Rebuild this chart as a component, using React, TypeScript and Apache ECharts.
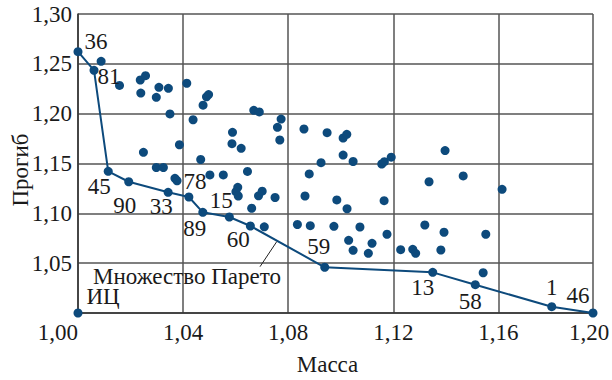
import React, { useEffect, useRef } from "react";
import * as echarts from "echarts";

// Design alternatives (mass, deflection), relative units
const designMass = [
  1.0088, 1.0158, 1.0237, 1.0257, 1.0239, 1.0308, 1.0298, 1.0344, 1.0414, 1.0350,
  1.0438, 1.0476, 1.0489, 1.0497, 1.0386, 1.0249, 1.0588, 1.0586, 1.0621, 1.0467,
  1.0669, 1.0690, 1.0773, 1.0759, 1.0768, 1.0860, 1.0948, 1.1009, 1.1023, 1.1009,
  1.0925, 1.1047, 1.1156, 1.1166, 1.1192, 1.0645, 1.0880, 1.0298, 1.0325, 1.0369,
  1.0377, 1.0502, 1.0553, 1.0608, 1.0601, 1.0610, 1.0687, 1.0701, 1.0750, 1.0661,
  1.0709, 1.0864, 1.0985, 1.1024, 1.1165, 1.1336, 1.0835, 1.0884, 1.0974, 1.1073,
  1.1030, 1.1047, 1.1119, 1.1105, 1.1176, 1.1228, 1.1274, 1.1285, 1.1320, 1.1397,
  1.1466, 1.1614, 1.1393, 1.1552, 1.1381, 1.1542,
];
const designDeflection = [
  1.2525, 1.2283, 1.2338, 1.2381, 1.2207, 1.2264, 1.2164, 1.2254, 1.2305, 1.1997,
  1.1939, 1.2085, 1.2169, 1.2192, 1.1688, 1.1612, 1.1813, 1.1699, 1.1652, 1.1540,
  1.2034, 1.2017, 1.1946, 1.1863, 1.1736, 1.1846, 1.1809, 1.1756, 1.1793, 1.1585,
  1.1508, 1.1520, 1.1495, 1.1518, 1.1563, 1.1420, 1.1395, 1.1460, 1.1460, 1.1351,
  1.1327, 1.1385, 1.1385, 1.1261, 1.1217, 1.1174, 1.1176, 1.1222, 1.1159, 1.1051,
  1.0865, 1.1174, 1.1134, 1.1046, 1.1127, 1.1317, 1.0888, 1.0876, 1.0870, 1.0863,
  1.0729, 1.0629, 1.0699, 1.0599, 1.0790, 1.0635, 1.0639, 1.0599, 1.0883, 1.1630,
  1.1375, 1.1241, 1.0810, 1.0790, 1.0632, 1.0404,
];

// Pareto set
const paretoIds = ["36", "81", "45", "90", "33", "78", "89", "15", "60", "59", "13", "58", "1", "46"];
const paretoMass = [1.0, 1.0061, 1.0115, 1.0193, 1.0343, 1.0422, 1.0475, 1.0576, 1.0656, 1.0939, 1.135, 1.1512, 1.1803, 1.196];
const paretoDeflection = [1.2622, 1.2435, 1.1422, 1.1317, 1.1211, 1.1164, 1.101, 1.0963, 1.0873, 1.0459, 1.0408, 1.0284, 1.0063, 1.0];

// Ideal point
const idealName = "ИЦ";
const idealMass = 1.0;
const idealDeflection = 1.0;

const xMin = 1.0;
const xMax = 1.196;
const xStep = 0.04;
const yMin = 1.0;
const yMax = 1.3;
const yStep = 0.05;

// label placement (styling, pixels)
const labelOffsets: Record<string, [number, number]> = {
  "36": [18, -10],
  "81": [15, 6],
  "45": [-9, 15],
  "90": [-4, 24],
  "33": [-7, 14],
  "78": [6, -15],
  "89": [-8, 16],
  "15": [-8, -17],
  "60": [-12, 14],
  "59": [-6, -21],
  "13": [-10, 15],
  "58": [-5, 17],
  "1": [0, -19],
  "46": [-15, -18],
};

const COLOR = "#0d4a7c";
const FONT = "Liberation Serif";
const TEXT = "#1a1a1a";
const FS = 23;

const fmt = (v: number) => v.toFixed(2).replace(".", ",");

export default function App() {
  const ref = useRef<HTMLDivElement>(null);
  useEffect(() => {
    document.body.style.margin = "0";
    if (!ref.current) return;
    const chart = echarts.init(ref.current, undefined, { renderer: "svg" });
    const scatterData = designMass.map((m, i) => [m, designDeflection[i]]);
    const paretoData = paretoIds.map((id, i) => ({
      name: id,
      value: [paretoMass[i], paretoDeflection[i]],
      label: { offset: labelOffsets[id] },
    }));
    const txt = { fontFamily: FONT, fontSize: FS, color: TEXT };
    chart.setOption({
      animation: false,
      backgroundColor: "#fff",
      textStyle: { fontFamily: FONT, fontSize: FS, color: TEXT },
      grid: { left: 78, right: 19, top: 14, bottom: 67, containLabel: false, outerBoundsMode: "none" },
      xAxis: {
        type: "value",
        min: xMin,
        max: xMax,
        interval: xStep,
        name: "Масса",
        nameLocation: "middle",
        nameGap: 40,
        nameTextStyle: { ...txt, padding: [0, 16, 0, 0] },
        axisLine: { show: true, lineStyle: { color: "#333", width: 1.5 } },
        axisTick: { show: false },
        splitLine: { show: true, lineStyle: { color: "#555", width: 1.5 } },
        axisLabel: {
          ...txt,
          margin: 8,
          alignMinLabel: "right",
          formatter: (v: number) => (v >= xMax - 1e-6 ? "{r|" + fmt(v) + "}" : fmt(v)),
          rich: { r: { ...txt, padding: [0, 8, 0, 0] } },
        },
      },
      yAxis: {
        type: "value",
        min: yMin,
        max: yMax,
        interval: yStep,
        axisLine: { show: true, lineStyle: { color: "#333", width: 1.5 } },
        axisTick: { show: false },
        splitLine: { show: true, lineStyle: { color: "#555", width: 1.5 } },
        axisLabel: {
          ...txt,
          margin: 6,
          showMinLabel: false,
          formatter: (v: number) => fmt(v),
        },
      },
      graphic: [
        {
          type: "text",
          x: 20,
          y: 170,
          rotation: Math.PI / 2,
          style: {
            text: "Прогиб",
            fontFamily: FONT,
            fontSize: FS,
            fill: TEXT,
            align: "center",
            verticalAlign: "middle",
          },
          z: 10,
        },
        {
          type: "text",
          x: 187,
          y: 276,
          style: {
            text: "Множество Парето",
            fontFamily: FONT,
            fontSize: FS,
            fill: TEXT,
            align: "center",
            verticalAlign: "middle",
          },
          z: 10,
        },
        {
          type: "line",
          shape: { x1: 260, y1: 266.7, x2: 276.7, y2: 241.7 },
          style: { stroke: "#222", lineWidth: 1 },
          z: 10,
        },
      ],
      series: [
        {
          type: "scatter",
          data: scatterData,
          symbol: "circle",
          symbolSize: 9,
          itemStyle: { color: COLOR, opacity: 1 },
          clip: false,
          z: 3,
        },
        {
          type: "line",
          data: paretoData,
          symbol: "circle",
          symbolSize: 9,
          showSymbol: true,
          itemStyle: { color: COLOR },
          lineStyle: { color: COLOR, width: 2 },
          clip: false,
          z: 4,
          label: {
            show: true,
            position: "inside",
            formatter: "{b}",
            ...txt,
            align: "center",
            verticalAlign: "middle",
          },
        },
        {
          type: "scatter",
          data: [{ name: idealName, value: [idealMass, idealDeflection] }],
          symbol: "circle",
          symbolSize: 9,
          itemStyle: { color: COLOR, opacity: 1 },
          clip: false,
          z: 4,
          label: {
            show: true,
            position: "inside",
            offset: [25, -17],
            formatter: "{b}",
            ...txt,
            align: "center",
            verticalAlign: "middle",
          },
        },
      ],
    });
    return () => chart.dispose();
  }, []);
  return <div ref={ref} style={{ width: 612, height: 380 }} />;
}
